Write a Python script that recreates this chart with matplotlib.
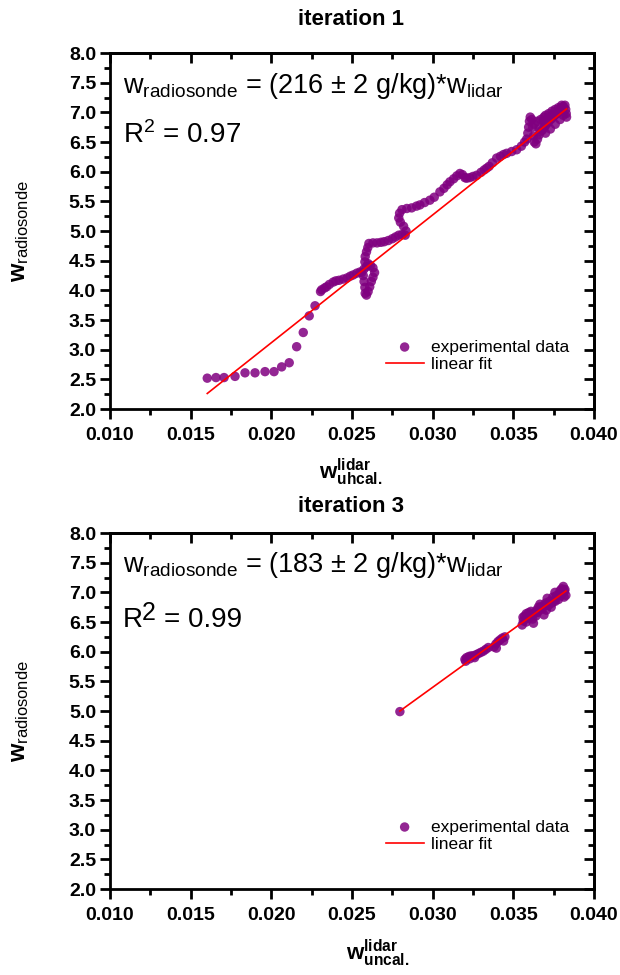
import numpy as np
import matplotlib
matplotlib.use("Agg")
import matplotlib.pyplot as plt
from matplotlib.ticker import MultipleLocator

plt.rcParams['font.family'] = ['Liberation Sans', 'DejaVu Sans']
plt.rcParams['mathtext.fontset'] = 'custom'
plt.rcParams['mathtext.rm'] = 'Liberation Sans'
plt.rcParams['mathtext.it'] = 'Liberation Sans'
plt.rcParams['mathtext.bf'] = 'Liberation Sans:bold'

# iteration 1 data (lidar uncalibrated, radiosonde)
x1 = [0.01603, 0.01657, 0.01707, 0.01775, 0.01837, 0.01899, 0.01961, 0.02017,
      0.02064, 0.02111, 0.02157, 0.02198, 0.02235, 0.02271,
      0.02305, 0.02312, 0.02330, 0.02343, 0.02360, 0.02384, 0.02400, 0.02420,
      0.02446, 0.02470, 0.02490, 0.02508, 0.02530, 0.02550,
      0.02560, 0.02570, 0.02575, 0.02580, 0.02582, 0.02590, 0.02600, 0.02610,
      0.02620, 0.02630, 0.02640, 0.02630, 0.02615, 0.02600, 0.02590, 0.02575,
      0.02580, 0.02582, 0.02590, 0.02598, 0.02605,
      0.02630, 0.02655, 0.02680, 0.02700, 0.02725, 0.02750, 0.02770, 0.02790,
      0.02810, 0.02830, 0.02835, 0.02820, 0.02800, 0.02790, 0.02795, 0.02810,
      0.02840, 0.02870, 0.02900, 0.02921, 0.02950, 0.02983, 0.03010, 0.03045,
      0.03070, 0.03090, 0.03107, 0.03130, 0.03150, 0.03169, 0.03185, 0.03200,
      0.03211, 0.03230, 0.03250, 0.03273, 0.03300, 0.03320, 0.03335, 0.03350,
      0.03370, 0.03397, 0.03420, 0.03440, 0.03459, 0.03490, 0.03521, 0.03550,
      0.03570, 0.03583,
      0.03590, 0.03595, 0.03600, 0.03605, 0.03615, 0.03620, 0.03625, 0.03630,
      0.03640, 0.03650, 0.03660, 0.03670, 0.03680, 0.03690, 0.03700, 0.03710,
      0.03720, 0.03730, 0.03740, 0.03750, 0.03760, 0.03770, 0.03780, 0.03790,
      0.03800, 0.03810, 0.03820, 0.03825, 0.03828, 0.03830,
      0.03630, 0.03650, 0.03670, 0.03690, 0.03700, 0.03720, 0.03740, 0.03760,
      0.03780, 0.03800, 0.03700, 0.03730, 0.03760, 0.03790, 0.03810,
      0.03660, 0.03685, 0.03715, 0.03745, 0.03775, 0.03805]
y1 = [2.52, 2.53, 2.53, 2.55, 2.61, 2.61, 2.63, 2.63,
      2.71, 2.78, 3.05, 3.29, 3.57, 3.74,
      3.98, 4.01, 4.04, 4.06, 4.10, 4.14, 4.16, 4.17,
      4.19, 4.21, 4.24, 4.26, 4.29, 4.31,
      4.30, 4.25, 4.15, 4.05, 3.95, 3.92, 3.98, 4.06,
      4.15, 4.22, 4.30, 4.38, 4.42, 4.45, 4.40, 4.36,
      4.48, 4.57, 4.65, 4.72, 4.79,
      4.80, 4.80, 4.81, 4.82, 4.84, 4.87, 4.90, 4.93,
      4.94, 4.93, 5.00, 5.08, 5.15, 5.22, 5.30, 5.36,
      5.38, 5.39, 5.42, 5.44, 5.48, 5.52, 5.57, 5.66,
      5.72, 5.78, 5.83, 5.88, 5.93, 5.97, 5.95, 5.90,
      5.89, 5.90, 5.92, 5.94, 5.99, 6.03, 6.06, 6.09,
      6.15, 6.23, 6.26, 6.29, 6.31, 6.34, 6.37, 6.43,
      6.50, 6.55,
      6.65, 6.75, 6.85, 6.92, 6.88, 6.75, 6.60, 6.50,
      6.47, 6.55, 6.62, 6.68, 6.70, 6.74, 6.78, 6.82,
      6.84, 6.88, 6.90, 6.93, 6.96, 6.98, 7.02, 7.05,
      7.08, 7.10, 7.12, 7.05, 6.98, 6.92,
      6.80, 6.85, 6.88, 6.92, 6.95, 6.98, 7.02, 7.05,
      7.08, 7.12, 6.65, 6.72, 6.80, 6.88, 6.95,
      6.72, 6.85, 6.90, 6.96, 7.00, 7.02]

# iteration 3 data
x3 = [0.02797,
      0.03200, 0.03210, 0.03225, 0.03240, 0.03255, 0.03270, 0.03285, 0.03300,
      0.03315, 0.03330, 0.03345, 0.03205, 0.03230, 0.03260,
      0.03380, 0.03392, 0.03405, 0.03418, 0.03432, 0.03448, 0.03440, 0.03395,
      0.03555, 0.03562, 0.03570, 0.03580, 0.03595, 0.03610, 0.03620, 0.03625,
      0.03640, 0.03655, 0.03665, 0.03680, 0.03690, 0.03700, 0.03710, 0.03725,
      0.03735, 0.03745, 0.03758, 0.03770, 0.03780, 0.03790, 0.03800, 0.03810,
      0.03820, 0.03826, 0.03815, 0.03580, 0.03600, 0.03650, 0.03705, 0.03760,
      0.03560, 0.03590, 0.03615, 0.03635, 0.03645, 0.03660, 0.03672, 0.03695,
      0.03718, 0.03740, 0.03752, 0.03765, 0.03785, 0.03795, 0.03805, 0.03818]
y3 = [4.99,
      5.87, 5.90, 5.92, 5.93, 5.93, 5.95, 5.97, 5.99,
      6.01, 6.04, 6.07, 5.84, 5.88, 5.90,
      6.08, 6.13, 6.17, 6.20, 6.23, 6.25, 6.18, 6.06,
      6.45, 6.52, 6.60, 6.64, 6.66, 6.68, 6.55, 6.48,
      6.60, 6.75, 6.80, 6.72, 6.62, 6.82, 6.90, 6.85,
      6.75, 6.92, 7.00, 6.95, 6.88, 7.03, 7.06, 7.10,
      7.05, 6.95, 6.92, 6.50, 6.58, 6.66, 6.70, 6.85,
      6.58, 6.56, 6.62, 6.66, 6.70, 6.70, 6.76, 6.78,
      6.78, 6.82, 6.86, 6.92, 6.96, 6.94, 7.00, 7.02]

# linear fits (slope, intercept)
fit1 = (215.4, -1.191)
fit3 = (196.5, -0.496)

titles = ["iteration 1", "iteration 3"]
equations = [r"w$_{\mathrm{radiosonde}}$ = (216 ± 2 g/kg)*w$_{\mathrm{lidar}}$",
             r"w$_{\mathrm{radiosonde}}$ = (183 ± 2 g/kg)*w$_{\mathrm{lidar}}$"]
r2_values = ["0.97", "0.99"]
xlabels = [r"$\mathbf{w}^{\mathbf{lidar}}_{\mathbf{uhcal.}}$",
           r"$\mathbf{w}^{\mathbf{lidar}}_{\mathbf{uncal.}}$"]
xticks = [0.010, 0.015, 0.020, 0.025, 0.030, 0.035, 0.040]
yticks = [2.0, 2.5, 3.0, 3.5, 4.0, 4.5, 5.0, 5.5, 6.0, 6.5, 7.0, 7.5, 8.0]

purple = "#800080"
fig = plt.figure(figsize=(6.2, 9.75), dpi=100)

panels = [(x1, y1, fit1, [0.1774, 0.5805, 0.7806, 0.3651]),
          (x3, y3, fit3, [0.1774, 0.0882, 0.7806, 0.3651])]
xlabel_pos = [(0.566, 0.515), (0.61, 0.022)]
title_y = [0.980, 0.480]
eq_y = [(0.888, 0.747), (0.890, 0.736)]

for i, (xs, ys, fit, rect) in enumerate(panels):
    ax = fig.add_axes(rect)
    xs = np.array(xs)
    ys = np.array(ys)
    ax.scatter(xs, ys, s=46, color=purple, alpha=0.85, edgecolors='none',
               label="experimental data", zorder=3)
    xf = np.sort(xs)
    ax.plot(xf, fit[0] * xf + fit[1], color="red", lw=1.2, label="linear fit",
            zorder=4)
    ax.set_xlim(0.010, 0.040)
    ax.set_ylim(2.0, 8.0)
    ax.set_xticks(xticks)
    ax.set_xticklabels([f"{t:.3f}" for t in xticks])
    ax.set_yticks(yticks)
    ax.set_yticklabels([f"{t:.1f}" for t in yticks])
    ax.xaxis.set_minor_locator(MultipleLocator(0.0025))
    ax.yaxis.set_minor_locator(MultipleLocator(0.25))
    for lab in ax.get_xticklabels() + ax.get_yticklabels():
        lab.set_fontweight("bold")
    ax.tick_params(which='major', direction='out', length=7, width=2,
                   labelsize=14, pad=3)
    ax.tick_params(axis='x', which='major', pad=6)
    ax.tick_params(which='minor', direction='out', length=4, width=2)
    for sp in ax.spines.values():
        sp.set_linewidth(2)
    top = ax.secondary_xaxis('top')
    top.set_xticks(xticks)
    top.xaxis.set_minor_locator(MultipleLocator(0.0025))
    top.tick_params(which='major', direction='in', length=7, width=2,
                    labeltop=False)
    top.tick_params(which='minor', direction='in', length=4, width=2)
    top.spines['top'].set_linewidth(2)
    right = ax.secondary_yaxis('right')
    right.set_yticks(yticks)
    right.yaxis.set_minor_locator(MultipleLocator(0.25))
    right.tick_params(which='major', direction='in', length=7, width=2,
                      labelright=False)
    right.tick_params(which='minor', direction='in', length=4, width=2)
    right.spines['right'].set_linewidth(2)

    ax.text(0.027, eq_y[i][0], equations[i], transform=ax.transAxes,
            fontsize=19.5, va='baseline', ha='left')
    if i == 0:
        ax.text(0.027, eq_y[i][1], r"R$^{2}$ = " + r2_values[i],
                transform=ax.transAxes, fontsize=20, va='baseline', ha='left')
    else:
        ax.text(0.027, eq_y[i][1], "R", transform=ax.transAxes,
                fontsize=20, va='baseline', ha='left')
        ax.text(0.066, eq_y[i][1] + 0.02, "2", transform=ax.transAxes,
                fontsize=18, va='baseline', ha='left')
        ax.text(0.112, eq_y[i][1], "= " + r2_values[i], transform=ax.transAxes,
                fontsize=20, va='baseline', ha='left')
    ax.legend(frameon=False, loc='upper left', bbox_to_anchor=(0.555, 0.215),
              fontsize=12.5, scatterpoints=1, handlelength=2.2,
              handletextpad=0.4, labelspacing=0.15, borderaxespad=0)
    ax.set_ylabel(r"$\mathbf{w}_{\mathrm{radiosonde}}$", fontsize=17)
    ax.yaxis.set_label_coords(-0.163, 0.5)
    fig.text(xlabel_pos[i][0], xlabel_pos[i][1], xlabels[i], fontsize=16,
             ha='center', va='center')
    fig.text(0.566, title_y[i], titles[i], fontsize=16, fontweight='bold',
             ha='center', va='center')

fig.savefig("out.png", dpi=100)
